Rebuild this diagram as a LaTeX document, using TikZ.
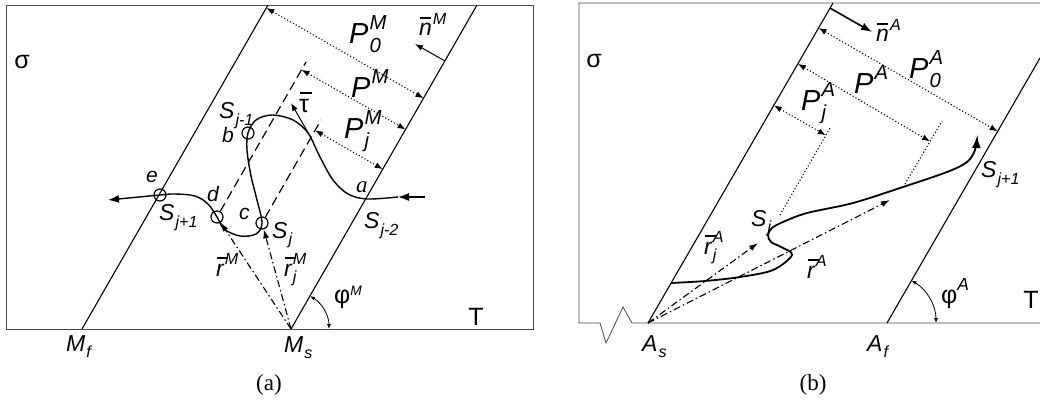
\documentclass[tikz,border=0pt]{standalone}
\usepackage{fontspec}
\setmainfont{Liberation Sans}
\newfontfamily\serif{Liberation Serif}
\usetikzlibrary{arrows.meta,calc}

% base letter with stacked super- and subscript
\newcommand{\supsub}[3]{#1\kern1pt\rlap{\raisebox{0.5em}{\scalebox{0.7}{#2}}}\raisebox{-0.3em}{\scalebox{0.7}{#3}}}
% letter with a bar on top
\newcommand{\vbar}[1]{\leavevmode\rlap{\kern0.05em\raisebox{0.75em}{\rule{0.45em}{0.09em}}}#1}

\begin{document}
\begin{tikzpicture}[x=1pt,y=-1pt,
    frame/.style={line width=0.8pt, black!70},
    bound/.style={line width=1.1pt},
    curvepath/.style={line width=1.4pt},
    dashline/.style={line width=1.2pt, dash pattern=on 9pt off 5pt},
    dotline/.style={line width=1.1pt, dash pattern=on 1.1pt off 2.2pt},
    dimarrow/.style={dotline, {Latex[length=8pt,width=6pt]}-{Latex[length=8pt,width=6pt]}},
    vec/.style={line width=1.1pt, dash pattern=on 7pt off 3pt on 1.5pt off 3pt, -{Latex[length=9pt,width=6pt]}},
    thinarrow/.style={line width=1pt, -{Latex[length=8pt,width=6pt]}},
    pt/.style={circle, draw, line width=1.2pt, minimum size=12pt, inner sep=0pt},
    lab/.style={font=\fontsize{23}{23}\selectfont\itshape, inner sep=0pt, anchor=base west},
    small/.style={font=\fontsize{21}{21}\selectfont\itshape, inner sep=0pt, anchor=base west},
    plab/.style={font=\fontsize{29}{29}\selectfont\itshape, inner sep=0pt, anchor=base west},
    grk/.style={font=\fontsize{25}{25}\selectfont, inner sep=0pt},
    captext/.style={font=\serif\fontsize{23}{23}\selectfont, inner sep=0pt}]
  \useasboundingbox (0,0) rectangle (1040,403);

  % ---------------- (a) ----------------
  \draw[frame] (6,5) rectangle (533,329);
  \coordinate (Mf0) at (82,329);  \coordinate (Mf1) at (268,5);
  \coordinate (Ms0) at (291,329); \coordinate (Ms1) at (477,5);
  \draw[bound] (Mf0) -- (Mf1);
  \draw[bound] (Ms0) -- (Ms1);

  % points on the path
  \node[pt] (e) at (160,195) {};
  \node[pt] (d) at (217,217) {};
  \node[pt] (c) at (262,223) {};
  \node[pt] (b) at (248,133) {};

  % dashed lines through d and c
  \coordinate (dtop) at (306,62);
  \coordinate (ctop) at (321,120);
  \draw[dashline] (d) -- (dtop);
  \draw[dashline] (c) -- (ctop);

  % the path
  \coordinate (a0) at (425,197);
  \coordinate (a1) at (398,197);
  \draw[curvepath, -{Latex[length=11pt,width=8pt]}] (a0) -- (a1);
  \draw[curvepath, -{Latex[length=11pt,width=8pt]}] plot[smooth, tension=0.55] coordinates {
    (a1) (367,199) (348,194) (333,180) (320,157) (308,133) (293,120) (272,115) (256,120)
    (b.center) (247,150) (251,176) (257,200) (c.center) (256,234) (240,236) (224,229)
    (d.center) (208,204) (195,196) (175,194) (e.center) (108,200)};

  % tangent
  \coordinate (tau0) at (310,136);
  \coordinate (tau1) at (291,103);
  \draw[thinarrow] (tau0) -- (tau1);

  % normal
  \coordinate (nM0) at (445,61);
  \coordinate (nM1) at (415,44);
  \draw[thinarrow] (nM0) -- (nM1);

  % distances
  \coordinate (p0M) at ($(Mf0)!0.991!(Mf1)$);
  \coordinate (pM)  at ($(d)!0.95!(dtop)$);
  \coordinate (pjM) at ($(c)!0.9!(ctop)$);
  \draw[dimarrow] (p0M) -- ($(Ms0)!(p0M)!(Ms1)$);
  \draw[dimarrow] (pM) -- ($(Ms0)!(pM)!(Ms1)$);
  \draw[dimarrow] (pjM) -- ($(Ms0)!(pjM)!(Ms1)$);

  % position vectors
  \draw[vec] (Ms0) -- (d);
  \draw[vec] (Ms0) -- (c);

  % angle
  \draw[line width=0.8pt, {Latex[length=5pt,width=4pt]}-{Latex[length=5pt,width=4pt]}] (Ms0) ++(38,0) arc[start angle=0, end angle=-60, radius=38];

  % labels
  \node[grk] (sigA) at (22,62) {σ};
  \node[lab] (MfL) at (66,351) {\supsub{M}{}{f}};
  \node[lab] (MsL) at (284,352) {\supsub{M}{}{s}};
  \node[grk] (TA) at (476,317) {T};
  \node[grk, anchor=base west] (phiM) at (334,303) {φ\raisebox{0.3em}{\scalebox{0.55}{\itshape M}}};
  \node[lab] (nML) at (419,36) {\supsub{\vbar{n}}{M}{}};
  \node[plab] (P0ML) at (349,44) {\supsub{P}{M}{0}};
  \node[plab] (PML) at (351,98) {\supsub{P}{M}{}};
  \node[plab] (PjML) at (344,139) {\supsub{P}{M}{j}};
  \node[grk, anchor=base west] (tauL) at (299,113) {\vbar{τ}};
  \node[lab] (Sjm1) at (219,119) {\supsub{S}{}{j-1}};
  \node[small] (bL) at (222,143) {b};
  \node[small] (eL) at (146,183) {e};
  \node[small] (dL) at (207,202) {d};
  \node[small] (cL) at (239,220) {c};
  \node[lab] (SjL) at (272,238) {\supsub{S}{}{j}};
  \node[lab] (Sjp1) at (159,221) {\supsub{S}{}{j+1}};
  \node[lab] (Sjm2) at (364,229) {\supsub{S}{}{j-2}};
  \node[lab, font=\serif\fontsize{23}{23}\selectfont\itshape] (aL) at (356,193) {a};
  \node[lab] (rML) at (216,276) {\supsub{\vbar{r}}{M}{}};
  \node[lab] (rjML) at (284,276) {\supsub{\vbar{r}}{M}{j}};
  \node[captext] (capA) at (269,385) {(a)};

  % ---------------- (b) ----------------
  \draw[frame] (1040,3) -- (579,3) -- (579,323) -- (600,323) -- (606,343) -- (623,307) -- (632,323) -- (1040,323);
  \coordinate (As0) at (648,323); \coordinate (As1) at (833,3);
  \coordinate (Af0) at (887,323); \coordinate (Af1) at (1040,58);
  \draw[bound] (As0) -- (As1);
  \draw[bound] (Af0) -- (Af1);

  % the path
  \coordinate (b0) at ($(As0)!0.125!(As1)$);
  \draw[line width=1.8pt, -{Latex[length=12pt,width=9pt]}] plot[smooth, tension=0.55] coordinates {
    (b0) (705,281) (740,277) (773,270) (792,255) (781,247) (771,242) (768,235) (772,228)
    (783,222) (807,213) (853,203) (903,187) (947,172) (967,162) (975,150) (977,136)};

  % dotted lines from the path
  \coordinate (s0) at (780,215); \coordinate (s1) at (830,128);
  \coordinate (q0) at (905,184); \coordinate (q1) at (942,121);
  \draw[dotline] (s0) -- (s1);
  \draw[dotline] (q0) -- (q1);

  % normal
  \coordinate (nA0) at ($(As0)!0.984!(As1)$);
  \coordinate (nA1) at (872,32);
  \draw[line width=1.6pt, -{Latex[length=11pt,width=8pt]}] (nA0) -- (nA1);

  % distances
  \coordinate (p0A) at ($(As0)!0.922!(As1)$);
  \coordinate (pA)  at ($(As0)!0.81!(As1)$);
  \coordinate (pjA) at ($(As0)!0.68!(As1)$);
  \draw[dimarrow] (p0A) -- ($(Af0)!(p0A)!(Af1)$);
  \draw[dimarrow] (pA) -- ($(q0)!(pA)!(q1)$);
  \draw[dimarrow] (pjA) -- ($(s0)!(pjA)!(s1)$);

  % position vectors
  \coordinate (rjA) at (758,243);
  \coordinate (rA) at (890,200);
  \draw[vec] (As0) -- (rjA);
  \draw[vec] (As0) -- (rA);

  % angle
  \draw[line width=0.8pt, {Latex[length=5pt,width=4pt]}-{Latex[length=5pt,width=4pt]}] (Af0) ++(49,0) arc[start angle=0, end angle=-60, radius=49];

  % labels
  \node[grk] (sigB) at (594,61) {σ};
  \node[lab] (AsL) at (642,351) {\supsub{A}{}{s}};
  \node[lab] (AfL) at (867,351) {\supsub{A}{}{f}};
  \node[grk] (TB) at (1031,300) {T};
  \node[grk, anchor=base west] (phiA) at (941,303) {φ\raisebox{0.5em}{\scalebox{0.7}{\itshape A}}};
  \node[lab] (nAL) at (876,42) {\supsub{\vbar{n}}{A}{}};
  \node[plab] (P0AL) at (909,79) {\supsub{P}{A}{0}};
  \node[plab] (PAL) at (854,94) {\supsub{P}{A}{}};
  \node[plab] (PjAL) at (801,111) {\supsub{P}{A}{j}};
  \node[lab] (SjB) at (751,226) {\supsub{S}{}{j}};
  \node[lab] (Sjp1B) at (981,178) {\supsub{S}{}{j+1}};
  \node[lab] (rjAL) at (704,254) {\supsub{\vbar{r}}{A}{j}};
  \node[lab] (rAL) at (807,278) {\supsub{\vbar{r}}{A}{}};
  \node[captext] (capB) at (813,385) {(b)};
\end{tikzpicture}
\end{document}
